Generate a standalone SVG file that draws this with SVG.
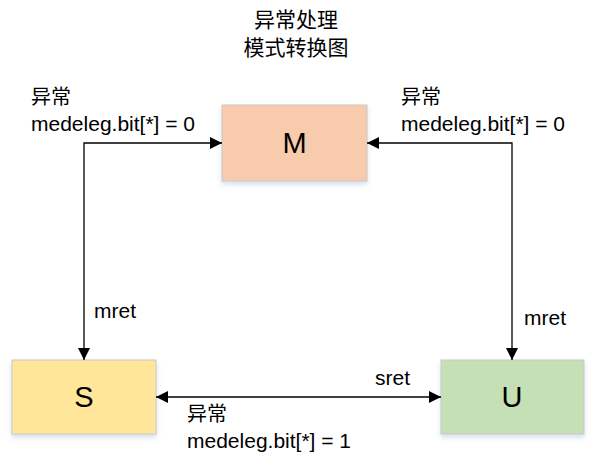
<svg xmlns="http://www.w3.org/2000/svg" width="592" height="460" viewBox="0 0 592 460">
<style>
.box{stroke:#C9C9C9;stroke-width:1}
.lbl{font-family:"Liberation Sans","Noto Sans CJK SC",sans-serif;font-size:21px;fill:#000}
.cjk{font-family:"Noto Sans CJK SC",sans-serif;font-size:20px;fill:#000}
.big{font-family:"Liberation Sans",sans-serif;font-size:29px;fill:#000;text-anchor:middle}
.ttl{font-family:"Noto Sans CJK SC",sans-serif;font-size:21px;fill:#000;text-anchor:middle}
.ln{fill:none;stroke:#000;stroke-width:1.3}
</style>
<defs>
<marker id="ah" viewBox="0 0 12 12" refX="12" refY="6" markerWidth="12" markerHeight="12" markerUnits="userSpaceOnUse" orient="auto-start-reverse">
<path d="M0,0 L12,6 L0,12 Z" fill="#000"/>
</marker>
<filter id="sh" x="-10%" y="-10%" width="130%" height="140%">
<feDropShadow dx="0" dy="3" stdDeviation="2.5" flood-color="#8FA6C8" flood-opacity="0.35"/>
</filter>
</defs>
<g id="title">
<text class="ttl" x="296" y="27">异常处理</text>
<text class="ttl" x="296" y="55">模式转换图</text>
</g>
<g id="node-M">
<rect class="box" x="222" y="105" width="145" height="76" fill="#F8CBAD" filter="url(#sh)"/>
<text class="big" x="294.5" y="153">M</text>
</g>
<g id="node-S">
<rect class="box" x="12" y="360" width="144" height="74" fill="#FFE699" filter="url(#sh)"/>
<text class="big" x="84" y="407">S</text>
</g>
<g id="node-U">
<rect class="box" x="441" y="360" width="143" height="74" fill="#C5E0B4" filter="url(#sh)"/>
<text class="big" x="512" y="407">U</text>
</g>
<g id="connectors">
<path class="ln" d="M222,143 L84,143 L84,360" marker-start="url(#ah)" marker-end="url(#ah)"/>
<path class="ln" d="M367,143 L512,143 L512,360" marker-start="url(#ah)" marker-end="url(#ah)"/>
<path class="ln" d="M156,397 L441,397" marker-start="url(#ah)" marker-end="url(#ah)"/>
</g>
<g id="labels">
<text class="cjk" x="31" y="104">异常</text>
<text class="lbl" x="31" y="131">medeleg.bit[*] = 0</text>
<text class="cjk" x="401" y="104">异常</text>
<text class="lbl" x="401" y="131">medeleg.bit[*] = 0</text>
<text class="lbl" x="94" y="318">mret</text>
<text class="lbl" x="524" y="325">mret</text>
<text class="lbl" x="375" y="385">sret</text>
<text class="cjk" x="187" y="421">异常</text>
<text class="lbl" x="187" y="448">medeleg.bit[*] = 1</text>
</g>
</svg>
